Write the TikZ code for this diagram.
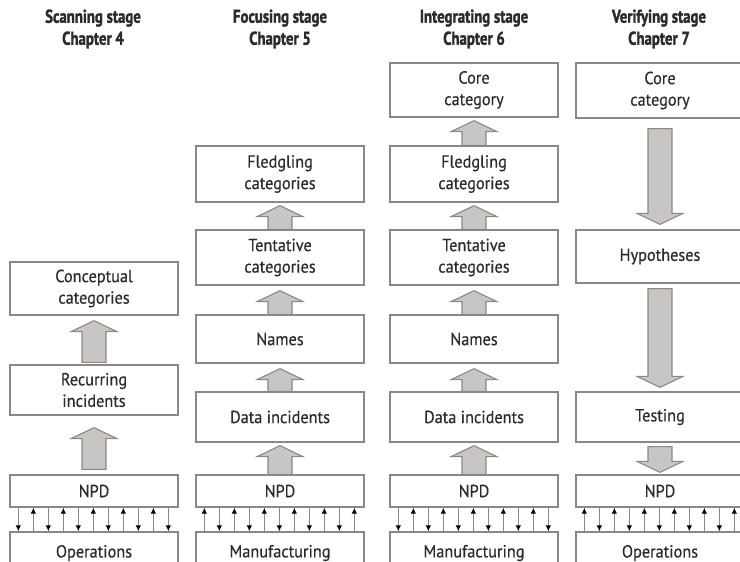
\documentclass[tikz,border=0pt]{standalone}
\usepackage{fontspec}
\setmainfont{PT Sans}
\newfontfamily\bodyfont[FakeStretch=0.93,FakeBold=0.4]{PT Sans}
\newfontfamily\headfont[FakeStretch=0.8,FakeBold=1.6]{PT Sans}
\usetikzlibrary{calc,arrows.meta}

\definecolor{edge}{HTML}{8E8682}
\definecolor{ink}{HTML}{2E2A2A}
\definecolor{shade}{HTML}{C8C6C4}

\tikzset{
  box/.style={draw=edge, line width=1.3pt, fill=white, minimum width=168pt,
    inner sep=0pt, align=center, text=ink, font=\bodyfont\fontsize{17.5}{21.5}\selectfont},
  boxh/.style={box, minimum height=#1pt},
  head/.style={align=center, text=ink, font=\headfont\bfseries\fontsize{18.5}{22}\selectfont},
  blk/.style={draw=edge, line width=1.1pt, fill=shade, line join=miter},
  tick/.style={draw=edge, line width=1pt},
  smalltip/.tip={Latex[length=6pt,width=5.5pt,color=black]}
}

% block arrow from start coordinate #1 to tip coordinate #2 (vertical)
\newcommand\blockarrow[2]{%
  \path[blk] let \p1=(#1), \p2=(#2), \p3=($(\p2)!11pt!(\p1)$) in
    (\x1-12pt,\y1) -- (\x1-12pt,\y3) -- (\x1-23pt,\y3) -- (\x1,\y2)
    -- (\x1+23pt,\y3) -- (\x1+12pt,\y3) -- (\x1+12pt,\y1) -- cycle;}

% eleven alternating arrows between an NPD box and the box beneath it
% #3 = 0: first arrow points down, 1: first arrow points up
\newcommand\exchange[3]{%
  \foreach \i in {0,...,10}{%
    \pgfmathtruncatemacro\dir{mod(\i+#3,2)}%
    \ifnum\dir=0
      \draw[tick,-smalltip] ($(#1.south west)+(9+15*\i,0)$) -- ($(#2.north west)+(9+15*\i,0)$);
    \else
      \draw[tick,smalltip-] ($(#1.south west)+(9+15*\i,0)$) -- ($(#2.north west)+(9+15*\i,0)$);
    \fi}}

\begin{document}
\begin{tikzpicture}[x=1pt,y=-1pt]
\useasboundingbox (0,0) rectangle (740,562);
\clip (0,0) rectangle (740,562);

% column headings
\node[head] (h1) at (93,29)  {Scanning stage\\Chapter 4};
\node[head] (h2) at (280,29) {Focusing stage\\Chapter 5};
\node[head] (h3) at (474,29) {Integrating stage\\Chapter 6};
\node[head] (h4) at (659,29) {Verifying stage\\Chapter 7};

% scanning stage
\node[boxh=53] (c1con) at (94,288.5) {Conceptual\\categories};
\node[boxh=50] (c1rec) at (94,390)   {Recurring\\incidents};
\node[boxh=32] (c1npd) at (94,491)   {NPD};
\node[boxh=42] (c1ops) at (94,553)   {Operations};

% focusing stage
\node[boxh=56] (c2fle) at (280,174)   {Fledgling\\categories};
\node[boxh=55] (c2ten) at (280,257.5) {Tentative\\categories};
\node[boxh=48] (c2nam) at (280,339)   {Names};
\node[boxh=50] (c2dat) at (280,417)   {Data incidents};
\node[boxh=32] (c2npd) at (280,491)   {NPD};
\node[boxh=42] (c2man) at (280,553)   {Manufacturing};

% integrating stage
\node[boxh=54] (c3cor) at (474,90)    {Core\\category};
\node[boxh=56] (c3fle) at (474,174)   {Fledgling\\categories};
\node[boxh=55] (c3ten) at (474,257.5) {Tentative\\categories};
\node[boxh=48] (c3nam) at (474,339)   {Names};
\node[boxh=50] (c3dat) at (474,417)   {Data incidents};
\node[boxh=32] (c3npd) at (474,491)   {NPD};
\node[boxh=42] (c3man) at (474,553)   {Manufacturing};

% verifying stage
\node[boxh=55] (c4cor) at (660,90.5)  {Core\\category};
\node[boxh=53] (c4hyp) at (660,256.5) {Hypotheses};
\node[boxh=50] (c4tes) at (660,417)   {Testing};
\node[boxh=32] (c4npd) at (660,491)   {NPD};
\node[boxh=42] (c4ops) at (660,553)   {Operations};

% block arrows, scanning stage
\blockarrow{$(c1rec.north)+(0,-2)$}{$(c1con.south)+(0,5)$}
\blockarrow{$(c1npd.north)+(0,-5)$}{$(c1rec.south)+(0,12)$}

% block arrows, focusing stage
\blockarrow{c2npd.north}{$(c2dat.south)+(0,3)$}
\blockarrow{c2dat.north}{$(c2nam.south)+(0,5)$}
\blockarrow{c2nam.north}{$(c2ten.south)+(0,5)$}
\blockarrow{c2ten.north}{$(c2fle.south)+(0,3)$}

% block arrows, integrating stage
\blockarrow{c3npd.north}{$(c3dat.south)+(0,3)$}
\blockarrow{c3dat.north}{$(c3nam.south)+(0,5)$}
\blockarrow{c3nam.north}{$(c3ten.south)+(0,5)$}
\blockarrow{c3ten.north}{$(c3fle.south)+(0,3)$}
\blockarrow{c3fle.north}{$(c3cor.south)+(0,3)$}

% block arrows, verifying stage
\blockarrow{$(c4cor.south)+(0,10)$}{$(c4hyp.north)+(0,-5)$}
\blockarrow{$(c4hyp.south)+(0,5)$}{$(c4tes.north)+(0,-4)$}
\blockarrow{$(c4tes.south)+(0,4)$}{$(c4npd.north)+(0,-2)$}

% two-way links between NPD and the function below it
\exchange{c1npd}{c1ops}{0}
\exchange{c2npd}{c2man}{1}
\exchange{c3npd}{c3man}{0}
\exchange{c4npd}{c4ops}{1}
\end{tikzpicture}
\end{document}
